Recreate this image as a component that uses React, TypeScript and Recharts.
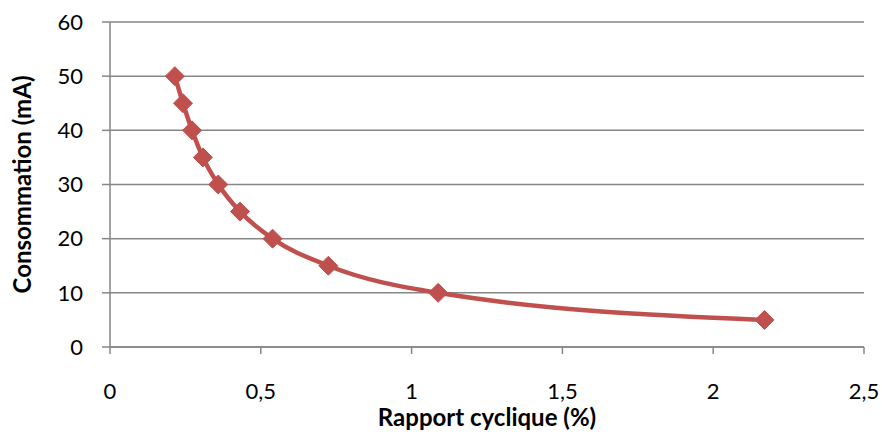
import { LineChart, Line, XAxis, YAxis, CartesianGrid } from 'recharts';

const dutyCycle = [0.215, 0.242, 0.272, 0.308, 0.359, 0.431, 0.539, 0.724, 1.088, 2.17];
const current = [50, 45, 40, 35, 30, 25, 20, 15, 10, 5];
const xTicks = [0, 0.5, 1, 1.5, 2, 2.5];
const yTicks = [0, 10, 20, 30, 40, 50, 60];

const data = dutyCycle.map((x, i) => ({ x, y: current[i] })).sort((a, b) => a.x - b.x);

const RED = '#C0504D';
const GRID = '#868686';
const FONT = 'Lato, "Open Sans", sans-serif';

function Diamond(props: any) {
  const { cx, cy } = props;
  if (cx == null || cy == null) return null;
  const r = 9.5;
  return (
    <polygon
      points={`${cx},${cy - r} ${cx + r},${cy} ${cx},${cy + r} ${cx - r},${cy}`}
      fill={RED}
      stroke={RED}
      strokeWidth={1}
    />
  );
}

const fmt = (v: number) => String(v).replace('.', ',');

export default function App() {
  return (
    <div style={{ position: 'absolute', left: 0, top: 0, background: '#fff' }}>
      <LineChart width={882} height={434} data={data} margin={{ top: 22, right: 18, left: 0, bottom: 0 }}>
        <CartesianGrid horizontal vertical={false} stroke={GRID} strokeWidth={1.5} />
        <XAxis
          dataKey="x"
          type="number"
          domain={[0, 2.5]}
          ticks={xTicks}
          tickFormatter={fmt}
          stroke={GRID}
          strokeWidth={1.5}
          tickSize={7}
          tickMargin={29}
          height={87}
          tick={{ fill: '#000', fontSize: 22, fontFamily: FONT }}
          label={{
            value: 'Rapport cyclique (%)',
            position: 'insideBottom',
            offset: 8,
            fill: '#000',
            fontSize: 24,
            fontWeight: 'bold',
            fontFamily: FONT,
          }}
        />
        <YAxis
          dataKey="y"
          type="number"
          domain={[0, 60]}
          ticks={yTicks}
          stroke={GRID}
          strokeWidth={1.5}
          tickSize={8}
          tickMargin={19}
          width={110}
          tick={{ fill: '#000', fontSize: 22, fontFamily: FONT }}
          label={{
            value: 'Consommation (mA)',
            angle: -90,
            position: 'insideLeft',
            offset: 22,
            style: { textAnchor: 'middle' },
            fill: '#000',
            fontSize: 24,
            fontWeight: 'bold',
            fontFamily: FONT,
          }}
        />
        <Line
          type="monotone"
          dataKey="y"
          stroke={RED}
          strokeWidth={4.5}
          dot={<Diamond />}
          activeDot={false}
          isAnimationActive={false}
        />
      </LineChart>
    </div>
  );
}
